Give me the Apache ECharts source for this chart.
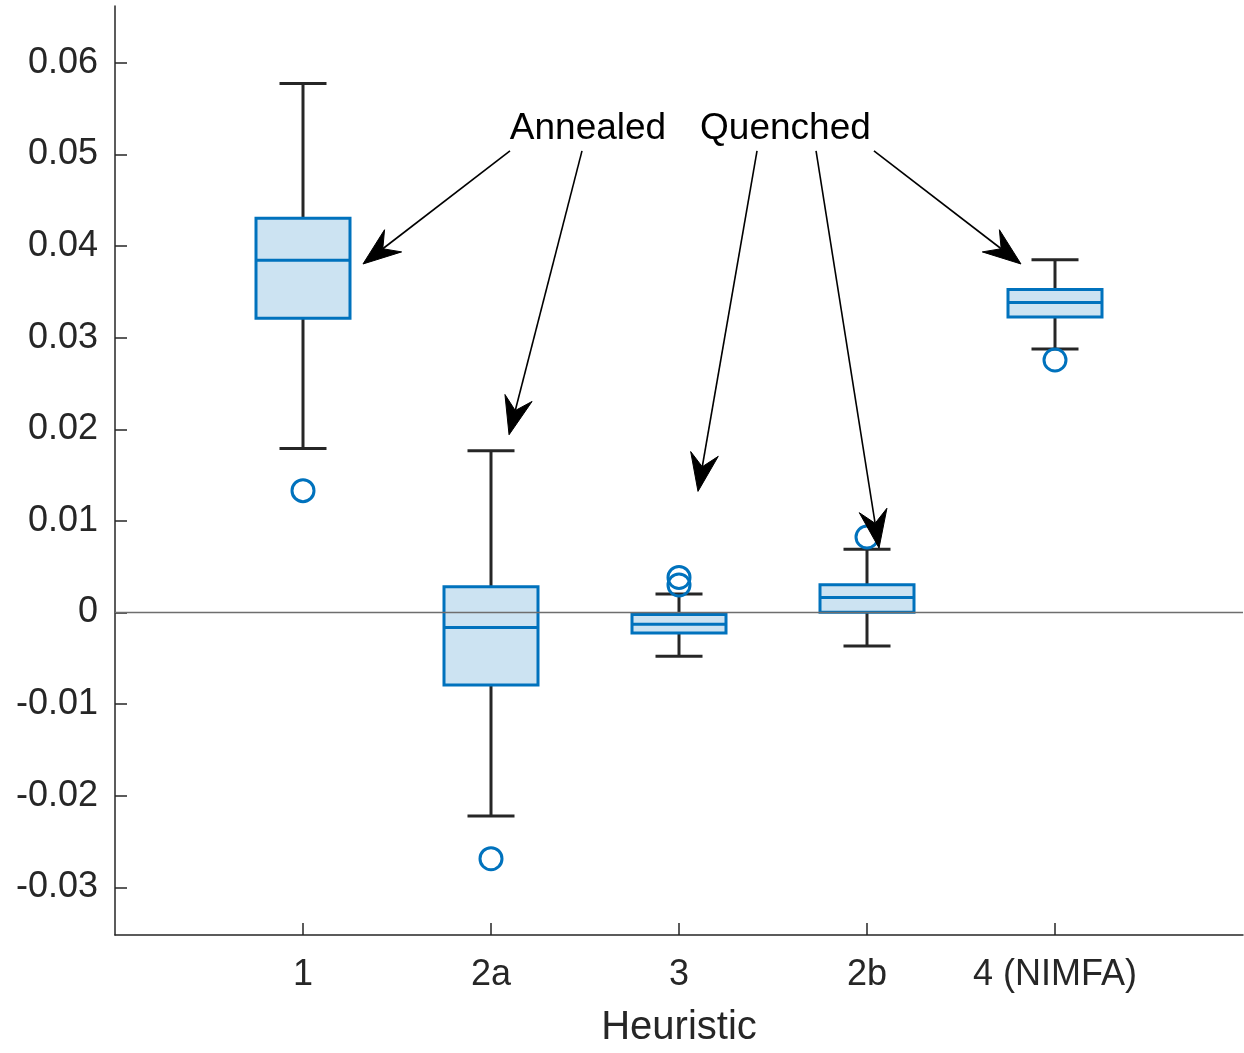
<!DOCTYPE html>
<html>
<head>
<meta charset="utf-8">
<script src="https://cdn.jsdelivr.net/npm/echarts@6/dist/echarts.min.js"></script>
<style>
  html, body { margin: 0; padding: 0; background: #ffffff; overflow: hidden; }
  #chart { width: 1244px; height: 1053px; }
</style>
</head>
<body>
<div id="chart"></div>
<script>
// Heuristic categories, placed at x = 1..5
const heuristics = ['1', '2a', '3', '2b', '4 (NIMFA)'];
const xPositions = [1, 2, 3, 4, 5];

// Box statistics per heuristic
const whiskerLow  = [0.01791, -0.02222, -0.00477, -0.00365, 0.02875];
const q1          = [0.03211, -0.00791, -0.00224,  0.00003, 0.03226];
const median      = [0.03844, -0.00163, -0.00127,  0.00163, 0.03385];
const q3          = [0.04302,  0.00282, -0.00022,  0.00303, 0.03525];
const whiskerHigh = [0.05773,  0.01766,  0.00203,  0.00690, 0.03850];

// Outliers: [x position, value]
const outliers = [
  [1, 0.01330],
  [2, -0.02687],
  [3, 0.00383],
  [3, 0.00300],
  [4, 0.00824],
  [5, 0.02756]
];

// Y tick values
const yTicks = [-0.03, -0.02, -0.01, 0, 0.01, 0.02, 0.03, 0.04, 0.05, 0.06];

// Annotation labels and arrows (data coordinates)
const annotationLabels = ['Annealed', 'Quenched'];
const annotationAnchors = [[2.516, 0.0528], [3.566, 0.0528]];
const arrowTails = [[2.101, 0.05039], [2.484, 0.05039], [3.415, 0.05039], [3.729, 0.05039], [4.037, 0.05039]];
const arrowTips  = [[1.319, 0.03804], [2.096, 0.01940], [3.101, 0.01322], [4.064, 0.00704], [4.819, 0.03804]];

const FONT = "'Liberation Sans', Arial, Helvetica, sans-serif";
const AXIS_COLOR = '#262626';
const BOX_EDGE = '#0072BD';
const BOX_FILL = '#CCE3F2';

const boxData = xPositions.map((x, i) => [x, whiskerLow[i], q1[i], median[i], q3[i], whiskerHigh[i]]);
const arrowData = arrowTails.map((t, i) => [t[0], t[1], arrowTips[i][0], arrowTips[i][1]]);

function renderBox(params, api) {
  const x = api.value(0);
  const pLow = api.coord([x, api.value(1)]);
  const pQ1 = api.coord([x, api.value(2)]);
  const pMed = api.coord([x, api.value(3)]);
  const pQ3 = api.coord([x, api.value(4)]);
  const pHigh = api.coord([x, api.value(5)]);
  const halfBox = api.size([0.25, 0])[0];
  const halfCap = api.size([0.125, 0])[0];
  const cx = pMed[0];
  const whiskerStyle = { stroke: AXIS_COLOR, lineWidth: 3, fill: null };
  return {
    type: 'group',
    children: [
      { type: 'line', shape: { x1: cx, y1: pLow[1], x2: cx, y2: pQ1[1] }, style: whiskerStyle },
      { type: 'line', shape: { x1: cx, y1: pQ3[1], x2: cx, y2: pHigh[1] }, style: whiskerStyle },
      { type: 'line', shape: { x1: cx - halfCap, y1: pLow[1], x2: cx + halfCap, y2: pLow[1] }, style: whiskerStyle },
      { type: 'line', shape: { x1: cx - halfCap, y1: pHigh[1], x2: cx + halfCap, y2: pHigh[1] }, style: whiskerStyle },
      {
        type: 'rect',
        shape: { x: cx - halfBox, y: pQ3[1], width: 2 * halfBox, height: pQ1[1] - pQ3[1] },
        style: { fill: BOX_FILL, stroke: BOX_EDGE, lineWidth: 3 }
      },
      {
        type: 'line',
        shape: { x1: cx - halfBox, y1: pMed[1], x2: cx + halfBox, y2: pMed[1] },
        style: { stroke: BOX_EDGE, lineWidth: 3 }
      }
    ]
  };
}

function renderArrow(params, api) {
  const tail = api.coord([api.value(0), api.value(1)]);
  const tip = api.coord([api.value(2), api.value(3)]);
  const dx = tip[0] - tail[0], dy = tip[1] - tail[1];
  const len = Math.sqrt(dx * dx + dy * dy);
  const ux = dx / len, uy = dy / len;
  const nx = -uy, ny = ux;
  const L = 38, W = 14, N = 25;
  const back = [tip[0] - ux * L, tip[1] - uy * L];
  const notch = [tip[0] - ux * N, tip[1] - uy * N];
  return {
    type: 'group',
    children: [
      {
        type: 'line',
        shape: { x1: tail[0], y1: tail[1], x2: notch[0], y2: notch[1] },
        style: { stroke: '#000000', lineWidth: 1.6 }
      },
      {
        type: 'polygon',
        shape: {
          points: [
            tip,
            [back[0] + nx * W, back[1] + ny * W],
            notch,
            [back[0] - nx * W, back[1] - ny * W]
          ]
        },
        style: { fill: '#000000', stroke: '#000000', lineWidth: 1 }
      }
    ]
  };
}

function renderLabel(params, api) {
  const p = api.coord([api.value(0), api.value(1)]);
  return {
    type: 'text',
    x: p[0],
    y: p[1],
    style: {
      text: annotationLabels[params.dataIndex],
      fill: '#000000',
      font: '37px ' + FONT,
      align: 'center',
      verticalAlign: 'middle'
    }
  };
}

const chart = echarts.init(document.getElementById('chart'), null, { renderer: 'canvas', width: 1244, height: 1053 });

chart.setOption({
  animation: false,
  backgroundColor: '#ffffff',
  grid: { left: 115, right: 1, top: 6, bottom: 110, containLabel: false },
  xAxis: {
    type: 'value',
    min: 0,
    max: 6,
    name: 'Heuristic',
    nameLocation: 'middle',
    nameGap: 73,
    nameTextStyle: { color: AXIS_COLOR, fontSize: 40, fontFamily: FONT },
    axisLine: { show: true, onZero: false, lineStyle: { color: AXIS_COLOR, width: 1.5 } },
    axisTick: { show: true, inside: true, length: 12, customValues: xPositions, lineStyle: { color: AXIS_COLOR, width: 1.5 } },
    axisLabel: {
      show: true,
      customValues: xPositions,
      margin: 22,
      color: AXIS_COLOR,
      fontSize: 36,
      fontFamily: FONT,
      formatter: v => heuristics[Math.round(v) - 1] || ''
    },
    splitLine: { show: false }
  },
  yAxis: {
    type: 'value',
    min: -0.0352,
    max: 0.0662,
    axisLine: { show: true, onZero: false, lineStyle: { color: AXIS_COLOR, width: 1.5 } },
    axisTick: { show: true, inside: true, length: 12, customValues: yTicks, lineStyle: { color: AXIS_COLOR, width: 1.5 } },
    axisLabel: {
      show: true,
      customValues: yTicks,
      margin: 17,
      color: AXIS_COLOR,
      fontSize: 36,
      fontFamily: FONT,
      formatter: v => (Math.abs(v) < 1e-12 ? '0' : v.toFixed(2))
    },
    splitLine: { show: false }
  },
  series: [
    {
      name: 'boxes',
      type: 'custom',
      renderItem: renderBox,
      data: boxData,
      z: 2,
      silent: true
    },
    {
      name: 'zero',
      type: 'line',
      data: [],
      z: 3,
      silent: true,
      markLine: {
        silent: true,
        symbol: 'none',
        label: { show: false },
        lineStyle: { color: '#6e6e6e', width: 1.4, type: 'solid' },
        data: [{ yAxis: 0 }]
      }
    },
    {
      name: 'outliers',
      type: 'scatter',
      data: outliers,
      symbol: 'circle',
      symbolSize: 22,
      itemStyle: { color: 'rgba(0,0,0,0)', borderColor: BOX_EDGE, borderWidth: 3, opacity: 1 },
      z: 4,
      silent: true
    },
    {
      name: 'arrows',
      type: 'custom',
      renderItem: renderArrow,
      data: arrowData,
      z: 5,
      silent: true
    },
    {
      name: 'labels',
      type: 'custom',
      renderItem: renderLabel,
      data: annotationAnchors,
      z: 6,
      silent: true
    }
  ]
});
</script>
</body>
</html>
